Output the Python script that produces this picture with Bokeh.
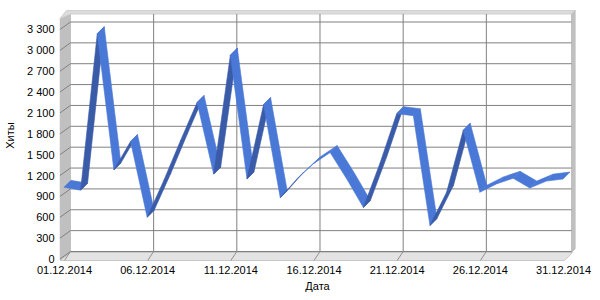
from bokeh.plotting import figure
from bokeh.models import FixedTicker, Range1d
from bokeh.embed import file_html
from bokeh.resources import INLINE

# ---- data ----
dates = ["%02d.12.2014" % d for d in range(1, 32)]
days = list(range(1, 32))
hits = [1030, 990, 3240, 1280, 1690, 600, 1130, 1700, 2250, 1220,
        2930, 1150, 2220, 880, 1150, 1370, 1530, 1150, 740, 1380,
        2090, 2060, 480, 960, 1850, 960, 1080, 1160, 1020, 1120, 1150]
y_ticks = list(range(0, 3301, 300))
x_ticks = [1, 6, 11, 16, 21, 26, 31]

# ---- layout (pixels) ----
W, H = 600, 300
FL, FR, FT, FB = 57, 575, 8, 262
FW, FH = FR - FL, FB - FT
DAY_PX = 16.7           # pixels per day on the front plane
Y_PX = 0.06955          # pixels per hit on the front plane
X0_PX, Y0_PX = 62, 258.5  # front-plane position of day 1 / value 0

x_start = 1 - (X0_PX - FL) / DAY_PX
x_end = 1 + (FR - X0_PX) / DAY_PX
y_start = -(FB - Y0_PX) / Y_PX
y_end = (Y0_PX - FT) / Y_PX

def X(px):
    return x_start + (px - FL) / FW * (x_end - x_start)

def Y(py):
    return y_start + (FB - py) / FH * (y_end - y_start)

# depth offsets (data units)
BDX, BDY = 6 / DAY_PX, 7.5 / Y_PX       # back wall
RF_PX, RB_PX = (-0.5, 0.0), (6.5, 7.0)  # ribbon front / back edge, px (right, up)
RFX, RFY = RF_PX[0] / DAY_PX, RF_PX[1] / Y_PX
RBX, RBY = RB_PX[0] / DAY_PX, RB_PX[1] / Y_PX
DEPTH_X = RB_PX[0] - RF_PX[0]
DEPTH_Y = RB_PX[1] - RF_PX[1]

p = figure(width=W, height=H, output_backend="svg", toolbar_location=None,
           x_range=Range1d(x_start, x_end), y_range=Range1d(y_start, y_end),
           min_border_left=FL, min_border_right=W - FR,
           min_border_top=FT, min_border_bottom=H - FB)
p.outline_line_color = None
p.xgrid.visible = False
p.ygrid.visible = False
p.background_fill_color = "white"
p.border_fill_color = "white"

FONT = "Liberation Sans"

# ---- 3D box ----
floor = [(57.5, 260), (564, 260), (572, 252), (68, 252)]
p.patch([X(a) for a, b in floor], [Y(b) for a, b in floor],
        fill_color="#E3E3E3", line_color="#C8C8C8", line_width=1)
left_wall = [(57.5, 18), (68, 13), (68, 252), (57.5, 259.5)]
p.patch([X(a) for a, b in left_wall], [Y(b) for a, b in left_wall],
        fill_color="#C0C0C0", line_color="#C0C0C0", line_width=1)
top_band = [(57.5, 18), (64, 10), (575, 10), (571, 13.5), (68, 13.5)]
p.patch([X(a) for a, b in top_band], [Y(b) for a, b in top_band],
        fill_color="#DCDCDC", line_color="#D0D0D0", line_width=1)
right_wall = [(571, 13.5), (575, 10), (575, 248), (571, 252)]
p.patch([X(a) for a, b in right_wall], [Y(b) for a, b in right_wall],
        fill_color="#C0C0C0", line_color="#C0C0C0", line_width=1)

# back-wall horizontal gridlines
bx0, bx1 = X(68), X(571)
p.segment(x0=[bx0] * len(y_ticks), x1=[bx1] * len(y_ticks),
          y0=[v + BDY for v in y_ticks], y1=[v + BDY for v in y_ticks],
          line_color="#808080", line_width=1)
# left-wall diagonal ticks
p.segment(x0=[X(57.5)] * len(y_ticks), x1=[bx0] * len(y_ticks),
          y0=[v for v in y_ticks], y1=[v + BDY for v in y_ticks],
          line_color="#808080", line_width=1)
# back-wall vertical gridlines
inner = x_ticks[1:-1]
p.segment(x0=[d + BDX for d in inner], x1=[d + BDX for d in inner],
          y0=[BDY] * len(inner), y1=[Y(13.5)] * len(inner),
          line_color="#808080", line_width=1)
# floor ticks
p.segment(x0=[d for d in x_ticks[:-1]], x1=[d + BDX for d in x_ticks[:-1]],
          y0=[Y(260)] * (len(x_ticks) - 1), y1=[BDY] * (len(x_ticks) - 1),
          line_color="#909090", line_width=1)

# ---- ribbon ----
LIGHT, DARK = "#4A78D6", "#3A5BA8"
xs, ys, cols = [], [], []
for i in range(len(days) - 1):
    d0, d1, v0, v1 = days[i], days[i + 1], hits[i], hits[i + 1]
    xs.append([d0 + RFX, d1 + RFX, d1 + RBX, d0 + RBX])
    ys.append([v0 + RFY, v1 + RFY, v1 + RBY, v0 + RBY])
    dx_px = (d1 - d0) * DAY_PX
    dy_px = (v1 - v0) * Y_PX
    cross = dx_px * DEPTH_Y - dy_px * DEPTH_X
    cols.append(LIGHT if cross >= 0 else DARK)
p.patches(xs, ys, fill_color=cols, line_color=cols, line_width=0.6)

# ---- axes ----
p.xaxis.ticker = FixedTicker(ticks=x_ticks)
p.xaxis.major_label_overrides = {d: dates[d - 1] for d in x_ticks}
p.yaxis.ticker = FixedTicker(ticks=y_ticks)
p.yaxis.major_label_overrides = {v: f"{v:,}".replace(",", " ") for v in y_ticks}

for ax in (p.xaxis[0], p.yaxis[0]):
    ax.axis_line_color = None
    ax.major_tick_line_color = None
    ax.minor_tick_line_color = None
    ax.major_tick_out = 0
    ax.major_tick_in = 0
    ax.major_label_text_font = FONT
    ax.major_label_text_font_size = "11px"
    ax.major_label_text_color = "black"
    ax.axis_label_text_font = FONT
    ax.axis_label_text_font_size = "11px"
    ax.axis_label_text_font_style = "normal"
    ax.axis_label_text_color = "black"

p.xaxis.axis_label = "Дата"
p.yaxis.axis_label = "Хиты"
p.xaxis.major_label_standoff = 3
p.xaxis.axis_label_standoff = 3
p.yaxis.major_label_standoff = 5
p.yaxis.axis_label_standoff = 8

open("out.html", "w").write(file_html(p, INLINE))
